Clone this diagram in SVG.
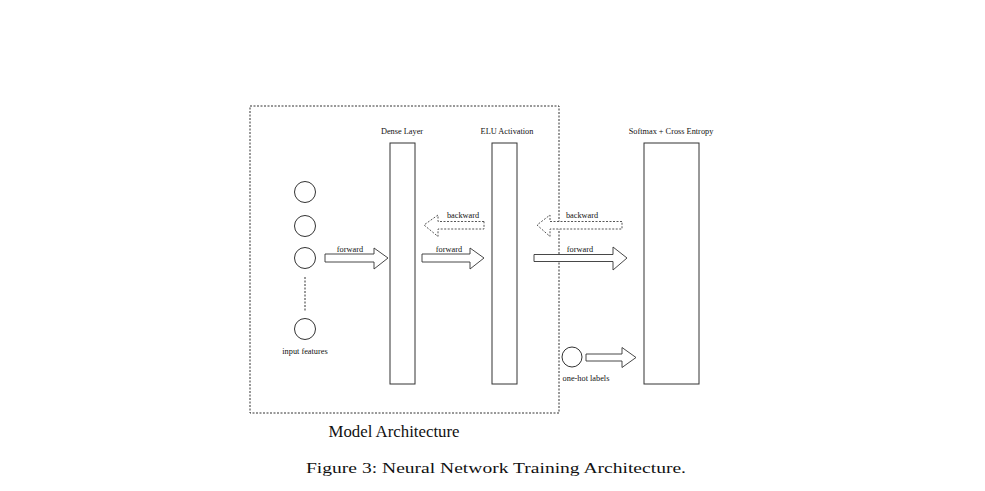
<svg xmlns="http://www.w3.org/2000/svg" width="985" height="491" viewBox="0 0 985 491">
<style>
.s{fill:none;stroke:#333;stroke-width:1}
.d{fill:none;stroke:#333;stroke-width:1;stroke-dasharray:2,1.5}
.ar{fill:#fff;stroke:#333;stroke-width:0.9}
.ad{fill:#fff;stroke:#444;stroke-width:0.9;stroke-dasharray:2,1.5}
.t{font-family:"Liberation Serif",serif;font-size:8.3px;fill:#111;text-anchor:middle}
.big{font-family:"Liberation Serif",serif;fill:#111;text-anchor:middle}
</style>
<rect width="985" height="491" fill="#fff"/>
<g id="model-box">
<rect class="d" x="250" y="106" width="309" height="307"/>
<text class="big" x="394" y="437" font-size="16" textLength="131" lengthAdjust="spacingAndGlyphs">Model Architecture</text>
</g>
<g id="input-features">
<circle class="s" cx="305" cy="192" r="10.5"/>
<circle class="s" cx="305" cy="226" r="10.5"/>
<circle class="s" cx="305" cy="258" r="10.5"/>
<line class="d" x1="305" y1="277" x2="305" y2="311"/>
<circle class="s" cx="305" cy="329" r="10.5"/>
<text class="t" x="305" y="354">input features</text>
</g>
<g id="dense-layer">
<rect class="s" x="390" y="143" width="25" height="241"/>
<text class="t" x="402" y="134">Dense Layer</text>
</g>
<g id="elu-activation">
<rect class="s" x="492" y="143" width="25" height="241"/>
<text class="t" x="507" y="134">ELU Activation</text>
</g>
<g id="softmax">
<rect class="s" x="644" y="143" width="55" height="241"/>
<text class="t" x="671" y="134">Softmax + Cross Entropy</text>
</g>
<g id="one-hot-labels">
<circle class="s" cx="572" cy="357" r="10"/>
<text class="t" x="586" y="381">one-hot labels</text>
</g>
<g id="connectors">
<polygon class="ar" points="325,254 374,254 374,248 388,258 374,269 374,262 325,262"/>
<text class="t" x="350" y="252">forward</text>
<polygon class="ar" points="422,254 470,254 470,248 484,258 470,269 470,262 422,262"/>
<text class="t" x="449" y="252">forward</text>
<polygon class="ar" points="534,254.5 613,254.5 613,247 627,258 613,270 613,261.5 534,261.5"/>
<text class="t" x="580" y="252">forward</text>
<polygon class="ad" points="484,221.5 438,221.5 438,215 424,225 438,236.5 438,229 484,229"/>
<text class="t" x="463" y="218">backward</text>
<polygon class="ad" points="622,221.5 550,221.5 550,215 537,225 550,236.5 550,229 622,229"/>
<text class="t" x="582" y="218">backward</text>
<polygon class="ar" points="586,354 622,354 622,347.5 636,357.5 622,367.5 622,361 586,361"/>
</g>
<text class="big" x="496" y="473" font-size="15.5" textLength="380" lengthAdjust="spacingAndGlyphs">Figure 3: Neural Network Training Architecture.</text>
</svg>
